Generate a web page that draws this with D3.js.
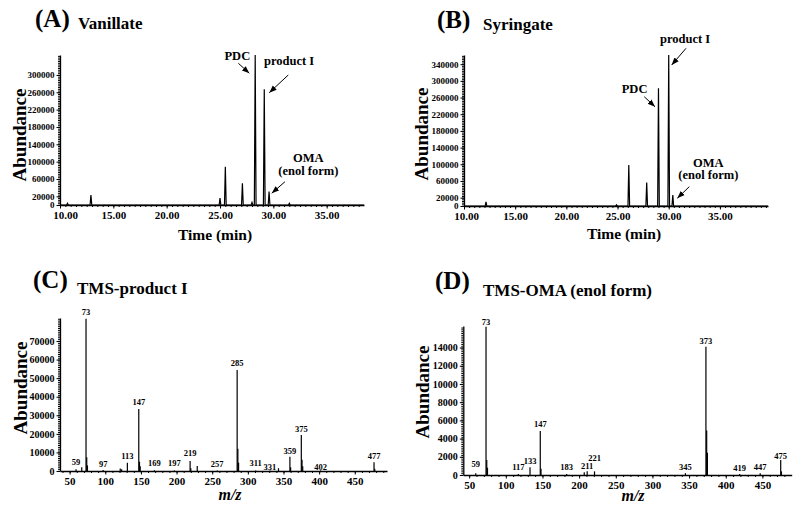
<!DOCTYPE html>
<html><head><meta charset="utf-8">
<script src="https://cdn.jsdelivr.net/npm/d3@7"></script>
<style>
body{margin:0;background:#fff}
svg{display:block}
text{font-family:"Liberation Serif","Times New Roman",serif;font-weight:bold;fill:#000}
</style>
</head><body>
<svg id="c" width="800" height="507"></svg>
<script>
// ---------- DATA ----------
// (A) Vanillate chromatogram
const chromA_time  = [10.7, 12.9, 25.0, 25.5, 27.1, 28.0, 28.3, 29.15, 29.6, 31.5];
const chromA_abund = [4000, 23000, 16000, 88000, 50000, 6000, 346000, 267000, 31000, 4000];
// (B) Syringate chromatogram
const chromB_time  = [12.15, 24.9, 26.1, 27.85, 29.0, 30.0, 30.4];
const chromB_abund = [10000, 3000, 98000, 56000, 282000, 362000, 26000];
const chromXTicks = [10, 15, 20, 25, 30, 35];
const chromAYTicks = [0, 20000, 60000, 100000, 140000, 180000, 220000, 260000, 300000];
const chromBYTicks = [0, 20000, 60000, 100000, 140000, 180000, 220000, 260000, 300000, 340000];

// (C) TMS-product I mass spectrum
const specC_mz    = [59, 67, 73, 74, 75, 97, 121, 123, 131, 147, 148, 149, 169, 197, 219, 220, 229, 257, 285, 286, 287, 311, 331, 343, 359, 360, 375, 376, 377, 402, 477, 478];
const specC_abund = [1000, 2000, 82000, 7400, 3000, 500, 1300, 1000, 4500, 33400, 5000, 2500, 400, 300, 5400, 1500, 2700, 300, 54400, 12000, 4500, 300, 300, 1500, 7700, 2000, 19400, 6000, 2500, 300, 4700, 1200];
const labelC_text  = ["73", "59", "97", "113", "147", "169", "197", "219", "257", "285", "311", "331", "359", "375", "402", "477"];
const labelC_mz    = [73, 59, 97, 131, 147, 169, 197, 219, 257, 285, 311, 331, 359, 375, 402, 477];
const labelC_abund = [84200, 3400, 2150, 6460, 35400, 2850, 2850, 7900, 2000, 56400, 2530, 380, 9300, 20800, 700, 6460];
const specCYTicks = [0, 10000, 20000, 30000, 40000, 50000, 60000, 70000];

// (D) TMS-OMA (enol form) mass spectrum
const specD_mz    = [59, 73, 74, 75, 117, 133, 147, 148, 183, 207, 211, 221, 345, 373, 374, 375, 419, 447, 475, 476];
const specD_abund = [200, 16300, 1650, 800, 100, 850, 4830, 700, 100, 300, 400, 400, 200, 14100, 4900, 2450, 100, 200, 1650, 400];
const labelD_text  = ["73", "59", "117", "133", "147", "183", "211", "221", "345", "373", "419", "447", "475"];
const labelD_mz    = [73, 59, 117, 133, 147, 183, 211, 221, 345, 373, 419, 447, 475];
const labelD_abund = [16520, 880, 520, 1240, 5275, 520, 660, 1500, 580, 14400, 400, 580, 1760];
const specDYTicks = [0, 2000, 4000, 6000, 8000, 10000, 12000, 14000];
const specXTicks = [50, 100, 150, 200, 250, 300, 350, 400, 450];

// Annotations (in data units: time, abundance)
const annA_text = ["PDC", "product I", "OMA", "(enol form)"];
const annA_pos  = [[25.42, 334500], [29.125, 322900], [33.28, 98500], [33.28, 69200]];
const annA_arrows = [[[26.72, 326900], [27.75, 303800]], [[31.40, 299900], [29.62, 259000]], [[31.09, 53700], [29.85, 27000]]];
const annB_text = ["product I", "PDC", "OMA", "(enol form)"];
const annB_pos  = [[29.15, 390000], [25.41, 270100], [33.87, 94200], [33.87, 64000]];
const annB_arrows = [[[31.69, 378000], [30.29, 338000]], [[27.61, 262000], [28.66, 238000]], [[32.01, 46300], [30.84, 18500]]];

// ---------- DRAW ----------
const svg = d3.select("#c");
svg.append("defs").append("marker")
  .attr("id", "arr").attr("viewBox", "0 0 10 10").attr("refX", 10).attr("refY", 5)
  .attr("markerUnits", "userSpaceOnUse").attr("markerWidth", 7.5).attr("markerHeight", 7.5)
  .attr("orient", "auto")
  .append("path").attr("d", "M0,1.2L10,5L0,8.8Z").attr("fill", "#000");

function drawAxes(g, x, y, xTicks, xFmt, xMinor, yTicks, yMinor, xFont, yFont, firstShift) {
  const x0 = x.range()[0], y0 = y.range()[0];
  const ym = g.append("g").attr("transform", `translate(${x0},0)`)
    .call(d3.axisLeft(y).tickValues(d3.range(0, y.domain()[1], yMinor)).tickSize(2).tickFormat(""));
  ym.select(".domain").remove();
  const ya = g.append("g").attr("transform", `translate(${x0},0)`)
    .call(d3.axisLeft(y).tickValues(yTicks).tickSize(3.5).tickSizeOuter(0).tickPadding(2).tickFormat(d3.format("d")));
  ya.selectAll("text").style("font-size", yFont);
  ya.select(".domain").attr("stroke-width", 1.3);
  const xm = g.append("g").attr("transform", `translate(0,${y0})`)
    .call(d3.axisBottom(x).tickValues(d3.range(Math.ceil(x.domain()[0] / xMinor) * xMinor, x.domain()[1], xMinor)).tickSize(2).tickFormat(""));
  xm.select(".domain").remove();
  const xa = g.append("g").attr("transform", `translate(0,${y0})`)
    .call(d3.axisBottom(x).tickValues(xTicks).tickSize(3.5).tickSizeOuter(0).tickPadding(2.5).tickFormat(xFmt));
  xa.selectAll("text").style("font-size", xFont);
  if (firstShift) xa.select(".tick text").attr("dx", firstShift);
  xa.select(".domain").attr("stroke-width", 1.3);
}

function chromPoints(times, abunds, dom) {
  const pk = times.map((t, i) => [t, abunds[i]]).sort((a, b) => a[0] - b[0]);
  const w = 0.08;
  const pts = [[dom[0], 0]];
  pk.forEach(p => { pts.push([p[0] - w, 0], [p[0], p[1]], [p[0] + w, 0]); });
  pts.push([dom[1], 0]);
  return pts;
}

function chromPanel(times, abunds, xr, yr, xdom, ydom, yTicks, ann, annPos, arrows, firstShift) {
  const x = d3.scaleLinear().domain(xdom).range(xr);
  const y = d3.scaleLinear().domain(ydom).range(yr);
  const g = svg.append("g");
  drawAxes(g, x, y, chromXTicks, d3.format(".2f"), 0.5, yTicks, 4000, "11px", "9px", firstShift);
  g.append("path").datum(chromPoints(times, abunds, xdom))
    .attr("fill", "none").attr("stroke", "#000").attr("stroke-width", 1.2)
    .attr("d", d3.line().x(d => x(d[0])).y(d => y(d[1])));
  ann.forEach((t, i) => {
    const anchor = (t === "OMA" || t === "(enol form)") ? "middle" : "start";
    g.append("text").attr("x", x(annPos[i][0])).attr("y", y(annPos[i][1]))
      .attr("text-anchor", anchor).style("font-size", "12.5px").text(t);
  });
  arrows.forEach(a => {
    g.append("line").attr("x1", x(a[0][0])).attr("y1", y(a[0][1]))
      .attr("x2", x(a[1][0])).attr("y2", y(a[1][1]))
      .attr("stroke", "#000").attr("stroke-width", 1).attr("marker-end", "url(#arr)");
  });
}

function specPanel(mz, ab, lt, lmz, lab, xr, yr, xdom, ydom, yTicks, yMinor) {
  const x = d3.scaleLinear().domain(xdom).range(xr);
  const y = d3.scaleLinear().domain(ydom).range(yr);
  const g = svg.append("g");
  drawAxes(g, x, y, specXTicks, d3.format("d"), 10, yTicks, yMinor, "11px", "10px", 0);
  g.selectAll("line.pk").data(mz.map((m, i) => [m, ab[i]])).join("line").attr("class", "pk")
    .attr("x1", d => x(d[0])).attr("x2", d => x(d[0]))
    .attr("y1", y(0)).attr("y2", d => y(d[1]))
    .attr("stroke", "#000").attr("stroke-width", 1.2);
  g.selectAll("text.lb").data(lt.map((t, i) => [t, lmz[i], lab[i]])).join("text").attr("class", "lb")
    .attr("x", d => x(d[1])).attr("y", d => y(d[2]))
    .attr("text-anchor", "middle").style("font-size", "8.5px").text(d => d[0]);
}

chromPanel(chromA_time, chromA_abund, [60, 364], [205, 55], [10, 38.5], [0, 346000], chromAYTicks, annA_text, annA_pos, annA_arrows, 5);
chromPanel(chromB_time, chromB_abund, [464, 768], [206, 55], [10, 39.7], [0, 362000], chromBYTicks, annB_text, annB_pos, annB_arrows, 2);
specPanel(specC_mz, specC_abund, labelC_text, labelC_mz, labelC_abund, [60, 387], [471, 318], [36.5, 495.2], [0, 82400], specCYTicks, 1000);
specPanel(specD_mz, specD_abund, labelD_text, labelD_mz, labelD_abund, [463.3, 791.7], [475, 326], [42, 490], [0, 16370], specDYTicks, 200);

function txt(x, y, s, size, opts) {
  const t = svg.append("text").attr("x", x).attr("y", y).style("font-size", size).text(s);
  if (opts && opts.anchor) t.attr("text-anchor", opts.anchor);
  if (opts && opts.italic) t.style("font-style", "italic");
  if (opts && opts.rot) t.attr("transform", `rotate(-90,${x},${y})`).attr("dominant-baseline", "central");
  return t;
}
txt(35, 27, "(A)", "25px");
txt(78, 29, "Vanillate", "17px");
txt(437, 28, "(B)", "25px");
txt(483, 30, "Syringate", "17px");
txt(33, 288, "(C)", "25px");
txt(77, 294, "TMS-product I", "17px");
txt(435, 289, "(D)", "25px");
txt(483, 296, "TMS-OMA (enol form)", "17px");

txt(19, 135, "Abundance", "19px", { anchor: "middle", rot: true });
txt(421, 134, "Abundance", "19px", { anchor: "middle", rot: true });
txt(20, 388, "Abundance", "19px", { anchor: "middle", rot: true });
txt(422, 392, "Abundance", "19px", { anchor: "middle", rot: true });
txt(215, 240, "Time (min)", "15.5px", { anchor: "middle" });
txt(624, 239, "Time (min)", "15.5px", { anchor: "middle" });
txt(230, 500, "m/z", "16px", { anchor: "middle", italic: true });
txt(633, 501, "m/z", "16px", { anchor: "middle", italic: true });
</script>
</body></html>
